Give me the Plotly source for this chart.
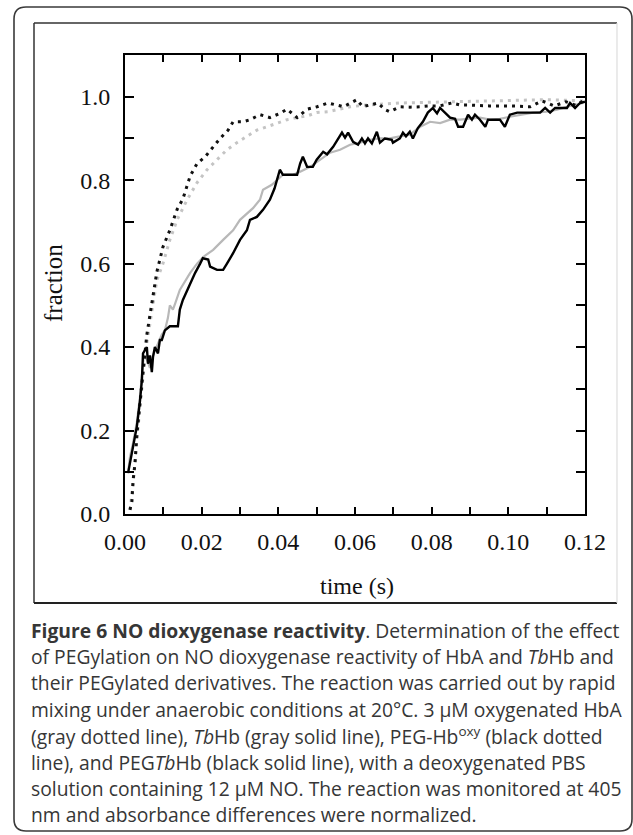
import plotly.graph_objects as go

# ---------------- data ----------------
# PEG-Hb oxy (black dotted)
peghb_t = [0.0013, 0.0018, 0.0021, 0.0026, 0.0031, 0.0039, 0.0047, 0.0057, 0.0070, 0.0083,
           0.0099, 0.0117, 0.0136, 0.0151, 0.0170, 0.0188, 0.0209, 0.0230, 0.0248, 0.0269,
           0.0282, 0.0308, 0.0326, 0.0352, 0.0378, 0.0404, 0.0423, 0.0449, 0.0475, 0.0501,
           0.0530, 0.0570, 0.0590, 0.0605, 0.0620, 0.0640, 0.0660, 0.0678, 0.0690, 0.0717,
           0.0743, 0.0770, 0.0796, 0.0820, 0.0853, 0.0874, 0.0900, 0.0950, 0.0980, 0.1004,
           0.1057, 0.1088, 0.1120, 0.1150, 0.1175, 0.1195]
peghb_v = [0.01, 0.03, 0.08, 0.12, 0.19, 0.27, 0.34, 0.43, 0.51, 0.58,
           0.64, 0.68, 0.73, 0.755, 0.81, 0.84, 0.856, 0.88, 0.90, 0.92,
           0.94, 0.94, 0.945, 0.957, 0.95, 0.96, 0.97, 0.95, 0.97, 0.976,
           0.985, 0.976, 0.985, 0.993, 0.976, 0.98, 0.985, 0.969, 0.964, 0.976,
           0.975, 0.976, 0.978, 0.978, 0.985, 0.98, 0.98, 0.978, 0.978, 0.978,
           0.976, 0.99, 0.978, 0.988, 0.98, 0.99]

# HbA (gray dotted)
hba_t = [0.0013, 0.0021, 0.0031, 0.0039, 0.0047, 0.0057, 0.0070, 0.0083, 0.0099, 0.0117,
         0.0136, 0.0162, 0.0188, 0.0214, 0.0240, 0.0266, 0.0292, 0.0318, 0.0344, 0.0370,
         0.0397, 0.0423, 0.0449, 0.0475, 0.0500, 0.0530, 0.0587, 0.0630, 0.0717, 0.0850,
         0.1000, 0.1100, 0.1195]
hba_v = [0.01, 0.07, 0.18, 0.26, 0.33, 0.41, 0.49, 0.56, 0.60, 0.657,
         0.705, 0.753, 0.794, 0.825, 0.849, 0.873, 0.89, 0.904, 0.92, 0.928,
         0.937, 0.945, 0.95, 0.954, 0.962, 0.964, 0.976, 0.98, 0.985, 0.988,
         0.99, 0.993, 0.99]

# PEGTbHb (black solid)
pegtb_t = [0.0008, 0.0018, 0.0026, 0.0031, 0.0039, 0.0044, 0.0047, 0.0057, 0.0060, 0.0065,
           0.0070, 0.0073, 0.0078, 0.0086, 0.0091, 0.0096, 0.0104, 0.0117, 0.0138, 0.0143,
           0.0151, 0.0170, 0.0183, 0.0196, 0.0203, 0.0217, 0.0222, 0.0240, 0.0256, 0.0266,
           0.0282, 0.0300, 0.0318, 0.0326, 0.0344, 0.0360, 0.0378, 0.0390, 0.0397, 0.0404,
           0.0412, 0.0449, 0.0457, 0.0464, 0.0475, 0.0490, 0.0500, 0.0517, 0.0527, 0.0543,
           0.0566, 0.0574, 0.0582, 0.0595, 0.0608, 0.0618, 0.0626, 0.0634, 0.0644, 0.0657,
           0.0665, 0.0678, 0.0696, 0.0699, 0.0717, 0.0725, 0.0733, 0.0743, 0.0751, 0.0764,
           0.0777, 0.0790, 0.0803, 0.0814, 0.0822, 0.0835, 0.0848, 0.0861, 0.0869, 0.0882,
           0.0895, 0.0905, 0.0913, 0.0926, 0.0940, 0.0947, 0.0978, 0.0991, 0.1004, 0.1023,
           0.1083, 0.1096, 0.1109, 0.1122, 0.1153, 0.1161, 0.1174, 0.1187, 0.1200]
pegtb_v = [0.098, 0.146, 0.19, 0.21, 0.27, 0.32, 0.385, 0.40, 0.36, 0.38,
           0.34, 0.376, 0.40, 0.385, 0.417, 0.417, 0.44, 0.45, 0.45, 0.49,
           0.513, 0.553, 0.578, 0.60, 0.613, 0.61, 0.593, 0.585, 0.585, 0.60,
           0.625, 0.657, 0.68, 0.705, 0.712, 0.729, 0.753, 0.78, 0.80, 0.825,
           0.813, 0.813, 0.84, 0.856, 0.832, 0.832, 0.849, 0.868, 0.862, 0.88,
           0.914, 0.902, 0.914, 0.892, 0.885, 0.90, 0.888, 0.90, 0.888, 0.916,
           0.89, 0.90, 0.897, 0.89, 0.90, 0.914, 0.905, 0.916, 0.90, 0.925,
           0.94, 0.962, 0.973, 0.96, 0.973, 0.962, 0.95, 0.947, 0.928, 0.928,
           0.957, 0.945, 0.957, 0.945, 0.928, 0.945, 0.945, 0.928, 0.957, 0.962,
           0.962, 0.973, 0.962, 0.973, 0.973, 0.985, 0.973, 0.985, 0.988]

# TbHb (gray solid)
tbhb_t = [0.0008, 0.0013, 0.0021, 0.0031, 0.0039, 0.0044, 0.0049, 0.0057, 0.0065, 0.0073,
          0.0083, 0.0096, 0.0104, 0.0112, 0.0117, 0.0125, 0.0131, 0.0143, 0.0170, 0.0188,
          0.0204, 0.0230, 0.0256, 0.0282, 0.0300, 0.0318, 0.0334, 0.0352, 0.0360, 0.0383,
          0.0397, 0.0412, 0.0438, 0.0457, 0.0483, 0.0509, 0.0535, 0.0561, 0.0587, 0.0613,
          0.0639, 0.0665, 0.0691, 0.0717, 0.0743, 0.0770, 0.0796, 0.0822, 0.0848, 0.0874,
          0.0900, 0.0926, 0.0952, 0.0978, 0.1004, 0.1030, 0.1065, 0.1101, 0.1127, 0.1153,
          0.1195]
tbhb_v = [0.10, 0.137, 0.17, 0.22, 0.28, 0.33, 0.38, 0.37, 0.35, 0.38,
          0.40, 0.43, 0.44, 0.47, 0.50, 0.49, 0.505, 0.537, 0.578, 0.60,
          0.616, 0.633, 0.657, 0.68, 0.705, 0.72, 0.733, 0.753, 0.777, 0.789,
          0.80, 0.813, 0.813, 0.82, 0.832, 0.849, 0.866, 0.873, 0.885, 0.89,
          0.897, 0.90, 0.90, 0.905, 0.909, 0.928, 0.94, 0.937, 0.945, 0.945,
          0.947, 0.95, 0.945, 0.947, 0.952, 0.957, 0.962, 0.964, 0.969, 0.976,
          0.985]

x_ticks = [0.00, 0.02, 0.04, 0.06, 0.08, 0.10, 0.12]
y_ticks = [0.0, 0.2, 0.4, 0.6, 0.8, 1.0]

caption_lines = [
    "<b>Figure 6 NO dioxygenase reactivity</b>. Determination of the effect",
    "of PEGylation on NO dioxygenase reactivity of HbA and <i>Tb</i>Hb and",
    "their PEGylated derivatives. The reaction was carried out by rapid",
    "mixing under anaerobic conditions at 20°C. 3 μM oxygenated HbA",
    "(gray dotted line), <i>Tb</i>Hb (gray solid line), PEG-Hb<sup>oxy</sup> (black dotted",
    "line), and PEG<i>Tb</i>Hb (black solid line), with a deoxygenated PBS",
    "solution containing 12 μM NO. The reaction was monitored at 405",
    "nm and absorbance differences were normalized.",
]

# ---------------- layout geometry (pixels) ----------------
W, H = 633, 835
PL, PR, PT, PB = 125, 585, 55, 514  # plot area


def px(xp):
    return (xp - PL) / (PR - PL)


def py(yp):
    return (PB - yp) / (PB - PT)


fig = go.Figure()
fig.add_trace(go.Scatter(x=hba_t, y=hba_v, mode="lines",
                         line=dict(color="#c4c4c4", width=3, dash="3px,5px"),
                         name="HbA"))
fig.add_trace(go.Scatter(x=tbhb_t, y=tbhb_v, mode="lines",
                         line=dict(color="#b8b8b8", width=2.2),
                         name="TbHb"))
fig.add_trace(go.Scatter(x=peghb_t, y=peghb_v, mode="lines",
                         line=dict(color="#111111", width=3, dash="3px,5px"),
                         name="PEG-Hb oxy"))
fig.add_trace(go.Scatter(x=pegtb_t, y=pegtb_v, mode="lines",
                         line=dict(color="#000000", width=2.4),
                         name="PEGTbHb"))

tickfont = dict(family="Liberation Serif", size=24, color="#111111")

fig.update_xaxes(range=[0, 0.12], tickvals=x_ticks, tickformat=".2f",
                 ticks="inside", ticklen=7, tickwidth=2, tickcolor="#000",
                 minor=dict(dtick=0.01, ticks="inside", ticklen=7, tickwidth=2, tickcolor="#000"),
                 showline=True, linewidth=2, linecolor="#000", mirror="ticks",
                 showgrid=False, zeroline=False, tickfont=tickfont,
                 ticklabelstandoff=5)
fig.update_yaxes(range=[0, 1.1], tickvals=y_ticks, tickformat=".1f",
                 ticks="inside", ticklen=9, tickwidth=2, tickcolor="#000",
                 minor=dict(dtick=0.1, ticks="inside", ticklen=9, tickwidth=2, tickcolor="#000"),
                 showline=True, linewidth=2, linecolor="#000", mirror="ticks",
                 showgrid=False, zeroline=False, tickfont=tickfont,
                 ticklabelstandoff=8)

annotations = [
    dict(text="fraction", x=px(53), y=py(283), xref="paper", yref="paper",
         textangle=-90, showarrow=False, xanchor="center", yanchor="middle",
         font=dict(family="Liberation Serif", size=25, color="#111")),
    dict(text="time (s)", x=px(357), y=py(586), xref="paper", yref="paper",
         showarrow=False, xanchor="center", yanchor="middle",
         font=dict(family="Liberation Serif", size=24, color="#111")),
]
for i, line in enumerate(caption_lines):
    annotations.append(dict(
        text=line, x=px(29), y=py(630 + i * 26.4), xref="paper", yref="paper",
        showarrow=False, xanchor="left", yanchor="middle", align="left",
        font=dict(family="Open Sans", size=19.3, color="#363636")))

# outer rounded frame
L, T, R, B, r = 14, 7, 632, 831, 12
path = (f"M {px(L)},{py(T + r)} Q {px(L)},{py(T)} {px(L + r)},{py(T)} "
        f"L {px(R - r)},{py(T)} Q {px(R)},{py(T)} {px(R)},{py(T + r)} "
        f"L {px(R)},{py(B - r)} Q {px(R)},{py(B)} {px(R - r)},{py(B)} "
        f"L {px(L + r)},{py(B)} Q {px(L)},{py(B)} {px(L)},{py(B - r)} Z")
shapes = [
    dict(type="path", path=path, xref="paper", yref="paper",
         line=dict(color="#3a3a3a", width=1.6)),
    # inner figure box
    dict(type="line", xref="paper", yref="paper", x0=px(34), x1=px(617), y0=py(23), y1=py(23),
         line=dict(color="#333", width=1.5)),
    dict(type="line", xref="paper", yref="paper", x0=px(34), x1=px(34), y0=py(23), y1=py(603),
         line=dict(color="#333", width=1.5)),
    dict(type="line", xref="paper", yref="paper", x0=px(34), x1=px(617), y0=py(603), y1=py(603),
         line=dict(color="#222", width=1.8)),
    dict(type="line", xref="paper", yref="paper", x0=px(617), x1=px(617), y0=py(23), y1=py(603),
         line=dict(color="#dddddd", width=1.2)),
]

fig.update_layout(
    width=W, height=H,
    margin=dict(l=PL, r=W - PR, t=PT, b=H - PB, pad=0),
    paper_bgcolor="white", plot_bgcolor="white",
    showlegend=False,
    annotations=annotations,
    shapes=shapes,
)

fig.write_html("out.html", config={"displayModeBar": False},
               post_script="document.body.style.margin='0';document.body.style.overflow='hidden';")
